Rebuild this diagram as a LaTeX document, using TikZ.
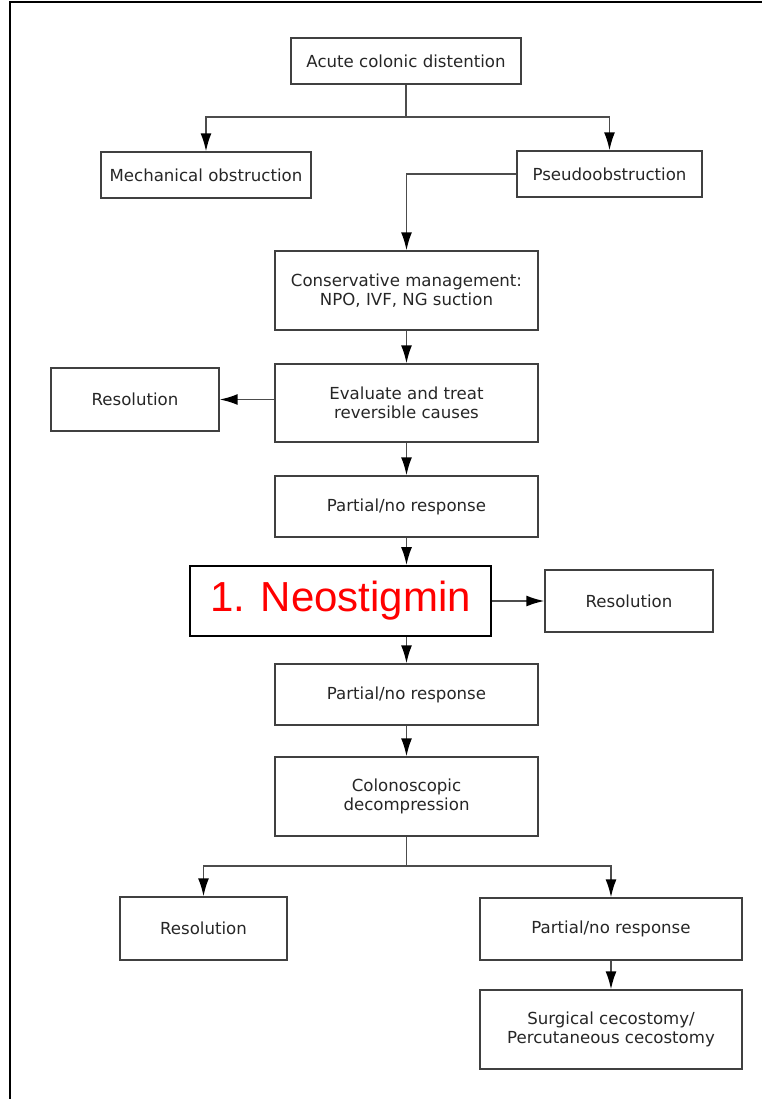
\documentclass[tikz,border=0pt]{standalone}
\usepackage{fontspec}
\setmainfont{DejaVu Sans}
\newfontfamily\arialfont{Liberation Sans}
\usetikzlibrary{arrows.meta}

\begin{document}
\begin{tikzpicture}[x=1pt,y=-1pt]

	\tikzset{box/.style = {shape=rectangle,draw=black!75,line width=1.4pt,align=center,
			font=\fontsize{16.6}{19}\selectfont,text=black!85,inner sep=0pt}}
	\tikzset{edge/.style = {->,> = {Latex[length=18pt,width=11pt,color=black]},draw=black!70,line width=1.6pt}}

	\useasboundingbox (0,0) rectangle (762,1099);
	\draw[line width=1.4pt] (10,1099) -- (10,2) -- (762,2);

	\node[box,minimum width=230,minimum height=46] (acd) at (406,61) {Acute colonic distention};
	\node[box,minimum width=210,minimum height=46] (mech) at (206,175) {Mechanical obstruction};
	\node[box,minimum width=185,minimum height=46] (pseudo) at (609.5,174) {Pseudoobstruction};
	\node[box,minimum width=263,minimum height=79] (cons) at (406.5,290.5) {Conservative management:\\NPO, IVF, NG suction};
	\node[box,minimum width=263,minimum height=78] (eval) at (406.5,403) {Evaluate and treat\\reversible causes};
	\node[box,minimum width=168,minimum height=63] (res1) at (135,399.5) {Resolution};
	\node[box,minimum width=263,minimum height=61] (part1) at (406.5,506.5) {Partial/no response};
	\node[box,draw=black,line width=1.8pt,minimum width=301,minimum height=70,
		text=red,font=\arialfont\fontsize{42}{46}\selectfont] (neo) at (340.5,601) {1. Neostigmin};
	\node[box,minimum width=168,minimum height=62] (res2) at (629,601) {Resolution};
	\node[box,minimum width=263,minimum height=61] (part2) at (406.5,694.5) {Partial/no response};
	\node[box,minimum width=263,minimum height=79] (colo) at (406.5,796.5) {Colonoscopic\\decompression};
	\node[box,minimum width=167,minimum height=63] (res3) at (203.5,928.5) {Resolution};
	\node[box,minimum width=262,minimum height=62] (part3) at (611,929) {Partial/no response};
	\node[box,minimum width=262,minimum height=79] (surg) at (611,1029.5) {Surgical cecostomy/\\Percutaneous cecostomy};

	\coordinate (split1) at (406,117);
	\coordinate (split2) at (406.5,866);

	\draw[edge,-] (acd) to (split1);
	\draw[edge] (split1) -| (mech);
	\draw[edge] (split1) -| (pseudo);
	\draw[edge] (pseudo.west) -| (cons.north);
	\draw[edge] (cons) to (eval);
	\draw[edge] (eval.west |- res1) to (res1.east);
	\draw[edge] (eval) to (part1);
	\draw[edge] (part1) to (part1 |- neo.north);
	\draw[edge] (neo) to (res2);
	\draw[edge] (neo.south -| part2) to (part2);
	\draw[edge] (part2) to (colo);
	\draw[edge,-] (colo) to (split2);
	\draw[edge] (split2) -| (res3);
	\draw[edge] (split2) -| (part3);
	\draw[edge] (part3) to (surg);
\end{tikzpicture}
\end{document}
